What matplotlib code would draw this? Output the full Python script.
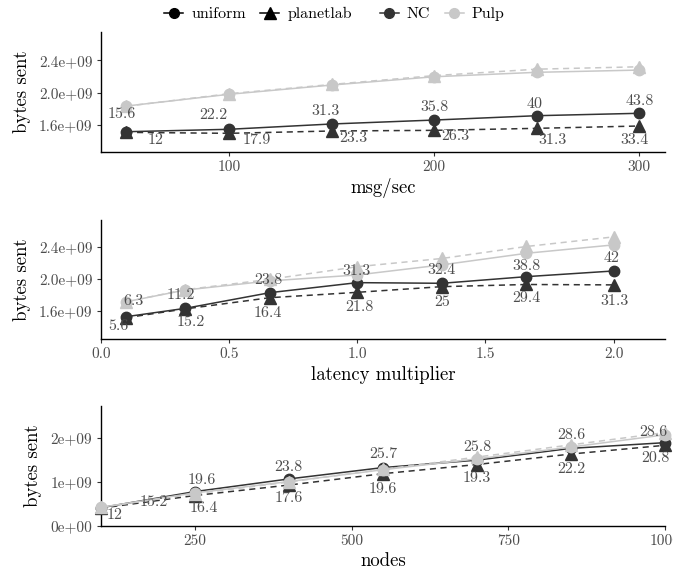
import matplotlib.pyplot as plt
from matplotlib.lines import Line2D

plt.rcParams['font.family'] = ['cmr10', 'DejaVu Serif']
plt.rcParams['axes.formatter.use_mathtext'] = True

DARK = '#333333'
LIGHT = '#c8c8c8'
GREY = '#4d4d4d'

# panel 1: msg/sec
rate = [50, 100, 150, 200, 250, 300]
rate_nc_uni = [1.513e9, 1.543e9, 1.609e9, 1.658e9, 1.712e9, 1.742e9]
rate_nc_pl = [1.505e9, 1.493e9, 1.522e9, 1.530e9, 1.555e9, 1.584e9]
rate_pulp_uni = [1.832e9, 1.978e9, 2.093e9, 2.196e9, 2.251e9, 2.279e9]
rate_pulp_pl = [1.83e9, 1.985e9, 2.10e9, 2.21e9, 2.29e9, 2.32e9]
rate_lab_uni = ['15.6', '22.2', '31.3', '35.8', '40', '43.8']
rate_lab_pl = ['12', '17.9', '23.3', '26.3', '31.3', '33.4']

# panel 2: latency multiplier
lat = [0.1, 0.33, 0.66, 1.0, 1.33, 1.66, 2.0]
lat_nc_uni = [1.533e9, 1.637e9, 1.833e9, 1.958e9, 1.95e9, 2.033e9, 2.104e9]
lat_nc_pl = [1.52e9, 1.63e9, 1.77e9, 1.837e9, 1.908e9, 1.935e9, 1.93e9]
lat_pulp_uni = [1.72e9, 1.866e9, 1.98e9, 2.054e9, 2.18e9, 2.325e9, 2.43e9]
lat_pulp_pl = [1.72e9, 1.87e9, 2.0e9, 2.157e9, 2.26e9, 2.41e9, 2.53e9]
lat_lab_uni = ['6.3', '11.2', '23.8', '31.3', '32.4', '38.8', '42']
lat_lab_pl = ['5.6', '15.2', '16.4', '21.8', '25', '29.4', '31.3']

# panel 3: nodes
nodes = [100, 250, 400, 550, 700, 850, 1000]
nodes_nc_uni = [0.41e9, 0.78e9, 1.07e9, 1.33e9, 1.50e9, 1.77e9, 1.90e9]
nodes_nc_pl = [0.40e9, 0.69e9, 0.93e9, 1.19e9, 1.40e9, 1.64e9, 1.84e9]
nodes_pulp_uni = [0.42e9, 0.75e9, 1.01e9, 1.28e9, 1.53e9, 1.80e9, 2.08e9]
nodes_pulp_pl = [0.42e9, 0.73e9, 1.00e9, 1.29e9, 1.57e9, 1.85e9, 2.13e9]
nodes_lab_uni = ['15.2', '19.6', '23.8', '25.7', '25.8', '28.6', '28.6']
nodes_lab_pl = ['12', '16.4', '17.6', '19.6', '19.3', '22.2', '20.8']

# label nudges in pixels (dx, dy), like ggrepel placed them
rate_nudge_uni = [(-5, 18), (-16, 14), (-6, 13), (0, 13), (-2, 12), (0, 12)]
rate_nudge_pl = [(29, -8), (28, -7), (22, -7), (21, -6), (16, -12), (-5, -14)]
lat_nudge_uni = [(7, 16), (-5, 13), (-2, 13), (-1, 12), (0, 13), (0, 11), (-2, 13)]
lat_nudge_pl = [(-8, -8), (5, -13), (-2, -15), (2, -15), (0, -15), (0, -14), (1, -16)]
nodes_nudge_uni = [(53, 6), (7, 11), (0, 12), (0, 13), (0, 13), (0, 13), (-12, 11)]
nodes_nudge_pl = [(14, -7), (9, -13), (0, -13), (0, -15), (0, -14), (0, -15), (-10, -13)]


def draw_panel(ax, x, nc_uni, nc_pl, pulp_uni, pulp_pl, lab_uni, lab_pl, nud_uni, nud_pl):
    ax.plot(x, nc_uni, color=DARK, lw=1.1, marker='o', ms=7.5, zorder=3)
    ax.plot(x, nc_pl, color=DARK, lw=1.1, ls=(0, (4, 3)), marker='^', ms=8.5, zorder=3)
    ax.plot(x, pulp_uni, color=LIGHT, lw=1.1, marker='o', ms=7.5, zorder=4)
    ax.plot(x, pulp_pl, color=LIGHT, lw=1.1, ls=(0, (4, 3)), marker='^', ms=8.5, zorder=4)
    for xi, yi, t, (dx, dy) in zip(x, nc_uni, lab_uni, nud_uni):
        ax.annotate(t, (xi, yi), xytext=(dx * 0.72, dy * 0.72), textcoords='offset points',
                    ha='center', va='center', fontsize=11.5, color=GREY, zorder=5)
    for xi, yi, t, (dx, dy) in zip(x, nc_pl, lab_pl, nud_pl):
        ax.annotate(t, (xi, yi), xytext=(dx * 0.72, dy * 0.72), textcoords='offset points',
                    ha='center', va='center', fontsize=11.5, color=GREY, zorder=5)
    for s in ['top', 'right']:
        ax.spines[s].set_visible(False)
    for s in ['left', 'bottom']:
        ax.spines[s].set_linewidth(1.0)
        ax.spines[s].set_color('black')
    ax.tick_params(length=3, width=0.8, color=DARK, labelcolor=GREY, labelsize=11, pad=3)
    ax.set_ylabel('bytes sent', fontsize=13.5, labelpad=6)


fig = plt.figure(figsize=(6.73, 5.78), dpi=100)
W, H = 673, 578


def add_axes(top, bottom):
    return fig.add_axes([100.7 / W, 1 - bottom / H, (665 - 100.7) / W, (bottom - top) / H])


ax1 = add_axes(32, 152)
draw_panel(ax1, rate, rate_nc_uni, rate_nc_pl, rate_pulp_uni, rate_pulp_pl,
           rate_lab_uni, rate_lab_pl, rate_nudge_uni, rate_nudge_pl)
ax1.set_xlim(37.5, 312.5)
ax1.set_ylim(1.261e9, 2.752e9)
ax1.set_xticks([100, 200, 300], ['100', '200', '300'])
ax1.set_yticks([1.6e9, 2.0e9, 2.4e9], ['1.6e+09', '2.0e+09', '2.4e+09'])
ax1.set_xlabel('msg/sec', fontsize=13.5, labelpad=3)

ax2 = add_axes(220, 339.3)
draw_panel(ax2, lat, lat_nc_uni, lat_nc_pl, lat_pulp_uni, lat_pulp_pl,
           lat_lab_uni, lat_lab_pl, lat_nudge_uni, lat_nudge_pl)
ax2.set_xlim(0, 2.2)
ax2.set_ylim(1.25e9, 2.741e9)
ax2.set_xticks([0, 0.5, 1.0, 1.5, 2.0], ['0.0', '0.5', '1.0', '1.5', '2.0'])
ax2.set_yticks([1.6e9, 2.0e9, 2.4e9], ['1.6e+09', '2.0e+09', '2.4e+09'])
ax2.set_xlabel('latency multiplier', fontsize=13.5, labelpad=3)

ax3 = add_axes(406, 525.7)
draw_panel(ax3, nodes, nodes_nc_uni, nodes_nc_pl, nodes_pulp_uni, nodes_pulp_pl,
           nodes_lab_uni, nodes_lab_pl, nodes_nudge_uni, nodes_nudge_pl)
ax3.set_xlim(100, 1000)
ax3.set_ylim(0, 2.739e9)
ax3.set_xticks([250, 500, 750, 1000], ['250', '500', '750', '1000'])
ax3.set_yticks([0, 1e9, 2e9], ['0e+00', '1e+09', '2e+09'])
ax3.set_xlabel('nodes', fontsize=13.5, labelpad=3)
for ax in (ax1, ax2, ax3):
    for line in ax.get_lines():
        line.set_clip_on(False)

# legends on top
shape_handles = [Line2D([], [], color='black', marker='o', ms=7, lw=1.1),
                 Line2D([], [], color='black', marker='^', ms=8, lw=1.1)]
color_handles = [Line2D([], [], color=DARK, marker='o', ms=7, lw=1.1),
                 Line2D([], [], color=LIGHT, marker='o', ms=7, lw=1.1)]
fig.legend(shape_handles, ['uniform', 'planetlab'], loc='center', ncol=2,
           bbox_to_anchor=(258 / W, 1 - 14 / H), frameon=False, fontsize=11.5,
           handlelength=1.2, handletextpad=0.5, columnspacing=0.9, borderpad=0)
fig.legend(color_handles, ['NC', 'Pulp'], loc='center', ncol=2,
           bbox_to_anchor=(442 / W, 1 - 14 / H), frameon=False, fontsize=11.5,
           handlelength=1.2, handletextpad=0.5, columnspacing=0.9, borderpad=0)

fig.savefig('out.png', dpi=100)
